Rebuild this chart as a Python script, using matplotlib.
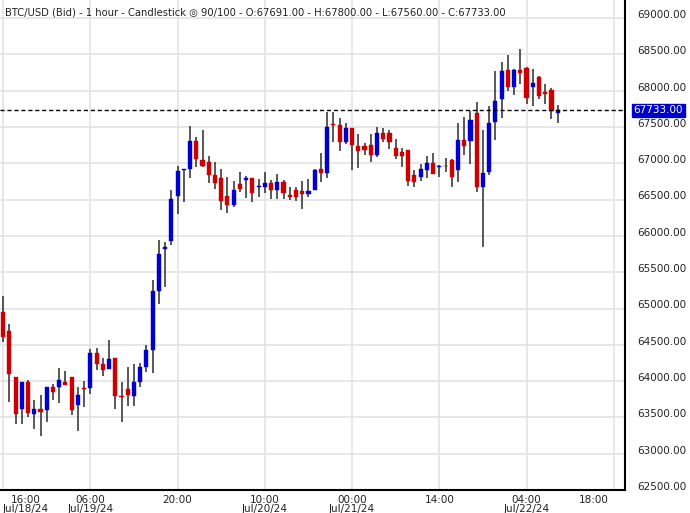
import matplotlib
matplotlib.use("Agg")
import matplotlib.pyplot as plt
from matplotlib.patches import Rectangle
import matplotlib.transforms as mtransforms

opens = [64949,64697,64050,63614,63981,63545,63609,63600,63912,63917,63981,64050,63669,63900,63903,64394,64229,64165,64312,63790,63885,63793,63981,64192,64426,65248,65817,65927,66546,66905,66918,67313,67051,67024,66836,66804,66556,66423,66721,66767,66804,66675,66680,66735,66638,66749,66570,66638,66625,66574,66638,66928,66863,67534,67534,67291,67493,67245,67245,67259,67112,67424,67424,67217,67162,67190,66846,66809,66905,67011,66950,66960,67052,66905,67327,67304,67699,66671,66877,67566,67882,68291,68048,68291,68318,68048,68195,67988,68016,67691]
highs = [65179,64793,64050,63981,64022,63733,63802,63912,63967,64174,64146,64050,63912,64008,64449,64463,64321,64564,64312,63981,64188,64229,64243,64500,65399,65950,65913,66638,66969,66928,67520,67364,67465,67107,67024,66923,66817,66762,66886,66831,66804,66790,66886,66767,66859,66776,66675,66680,66762,66790,66928,67148,67712,67713,67630,67562,67493,67410,67286,67410,67507,67493,67465,67341,67217,67190,66914,66988,67107,67148,66974,67080,67066,67562,67644,67727,67850,67465,67795,68277,68401,68497,68305,68580,68332,68305,68208,68098,68043,67800]
lows = [64536,63710,63416,63407,63504,63338,63242,63435,63738,63696,63940,63540,63311,63641,63820,64151,64068,64160,63614,63435,63655,63655,63917,64123,64110,65060,65300,65872,66299,66469,66794,66951,66951,66726,66652,66354,66313,66395,66611,66528,66464,66542,66597,66514,66514,66514,66500,66487,66368,66542,66638,66739,66794,67291,67167,67272,66905,66933,67112,67015,67084,67300,67194,67057,66946,66685,66671,66754,66795,66850,66809,66878,66671,66740,67112,66988,66602,65844,66836,67318,67621,67993,67937,68089,67814,67786,67882,67814,67607,67560]
closes = [64605,64096,63545,63981,63559,63609,63572,63912,63848,64022,63953,63600,63802,63898,64394,64233,64151,64298,63793,63783,63807,63981,64188,64435,65248,65757,65854,66514,66900,66928,67313,67056,66960,66840,66726,66478,66423,66638,66652,66804,66588,66680,66735,66629,66749,66588,66533,66533,66574,66625,66914,66863,67506,67530,67291,67493,67250,67167,67190,67112,67424,67332,67291,67098,67098,66754,66740,66928,67011,66850,66956,66965,66809,67327,67236,67603,66671,66868,67561,67864,68277,68048,68291,68240,67896,68112,67924,67951,67717,67733]
tick_pos = [0, 14, 28, 42, 56, 70, 84, 98]
tick_labels = ["16:00\nJul/18/24", "06:00\nJul/19/24", "20:00", "10:00\nJul/20/24",
               "00:00\nJul/21/24", "14:00", "04:00\nJul/22/24", "18:00"]
y_ticks = list(range(62500, 69001, 500))

fig = plt.figure(figsize=(6.9, 5.13), dpi=100)
ax = fig.add_axes([0, 1 - 490/513, 625/690, 490/513])
RED, BLUE, WICK = "#cc0000", "#0000cc", "#2b2b2b"
w = 0.66
for i, (o, h, l, c) in enumerate(zip(opens, highs, lows, closes)):
    ax.vlines(i, l, h, color=WICK, lw=1.1, zorder=2)
    col = BLUE if c >= o else RED
    ax.add_patch(Rectangle((i - w/2, min(o, c)), w, max(abs(c - o), 8), facecolor=col, edgecolor=col, lw=0.3, zorder=3))

ax.set_xlim(-0.5, 99.8)
ax.set_ylim(62500, 69250)
ax.set_yticks(y_ticks)
ax.set_xticks(tick_pos)
ax.grid(True, color="#e3e3e3", lw=1.2, zorder=0)
ax.set_axisbelow(True)
ax.tick_params(length=0, labelsize=7.5, colors="#222222")
ax.yaxis.tick_right()
ax.set_yticklabels([f"{v:.2f}" for v in y_ticks], fontsize=7.5)
for lab in ax.get_yticklabels():
    lab.set_ha("left")
    lab.set_transform(lab.get_transform() + mtransforms.ScaledTranslation(5/72, 3/72, fig.dpi_scale_trans))
ax.set_xticklabels(tick_labels, fontsize=7.5, linespacing=0.95)
for k, lab in enumerate(ax.get_xticklabels()):
    dx = 0
    if k == 0: dx = 23
    if k == len(tick_labels) - 1: dx = -20
    lab.set_transform(lab.get_transform() + mtransforms.ScaledTranslation(dx/100, 0, fig.dpi_scale_trans))
for s in ["top", "left"]:
    ax.spines[s].set_visible(False)
ax.spines["right"].set_color("black")
ax.spines["bottom"].set_color("black")
ax.spines["right"].set_linewidth(1.5)
ax.spines["bottom"].set_linewidth(1.5)

last = closes[-1]
ax.axhline(last, color="black", lw=1, ls=(0, (3, 2)), zorder=4)
ax.text(1.014, last, f"{last:.2f}", transform=ax.get_yaxis_transform(), va="center", ha="left",
        fontsize=7.5, color="white", bbox=dict(boxstyle="square,pad=0.15", fc=BLUE, ec=BLUE), clip_on=False)

ax.text(0.008, 0.985, "BTC/USD (Bid) - 1 hour - Candlestick \u25CE 90/100 - O:67691.00 - H:67800.00 - L:67560.00 - C:67733.00",
        transform=ax.transAxes, va="top", ha="left", fontsize=7.2, color="#222222")
fig.savefig("out.png", dpi=100)
